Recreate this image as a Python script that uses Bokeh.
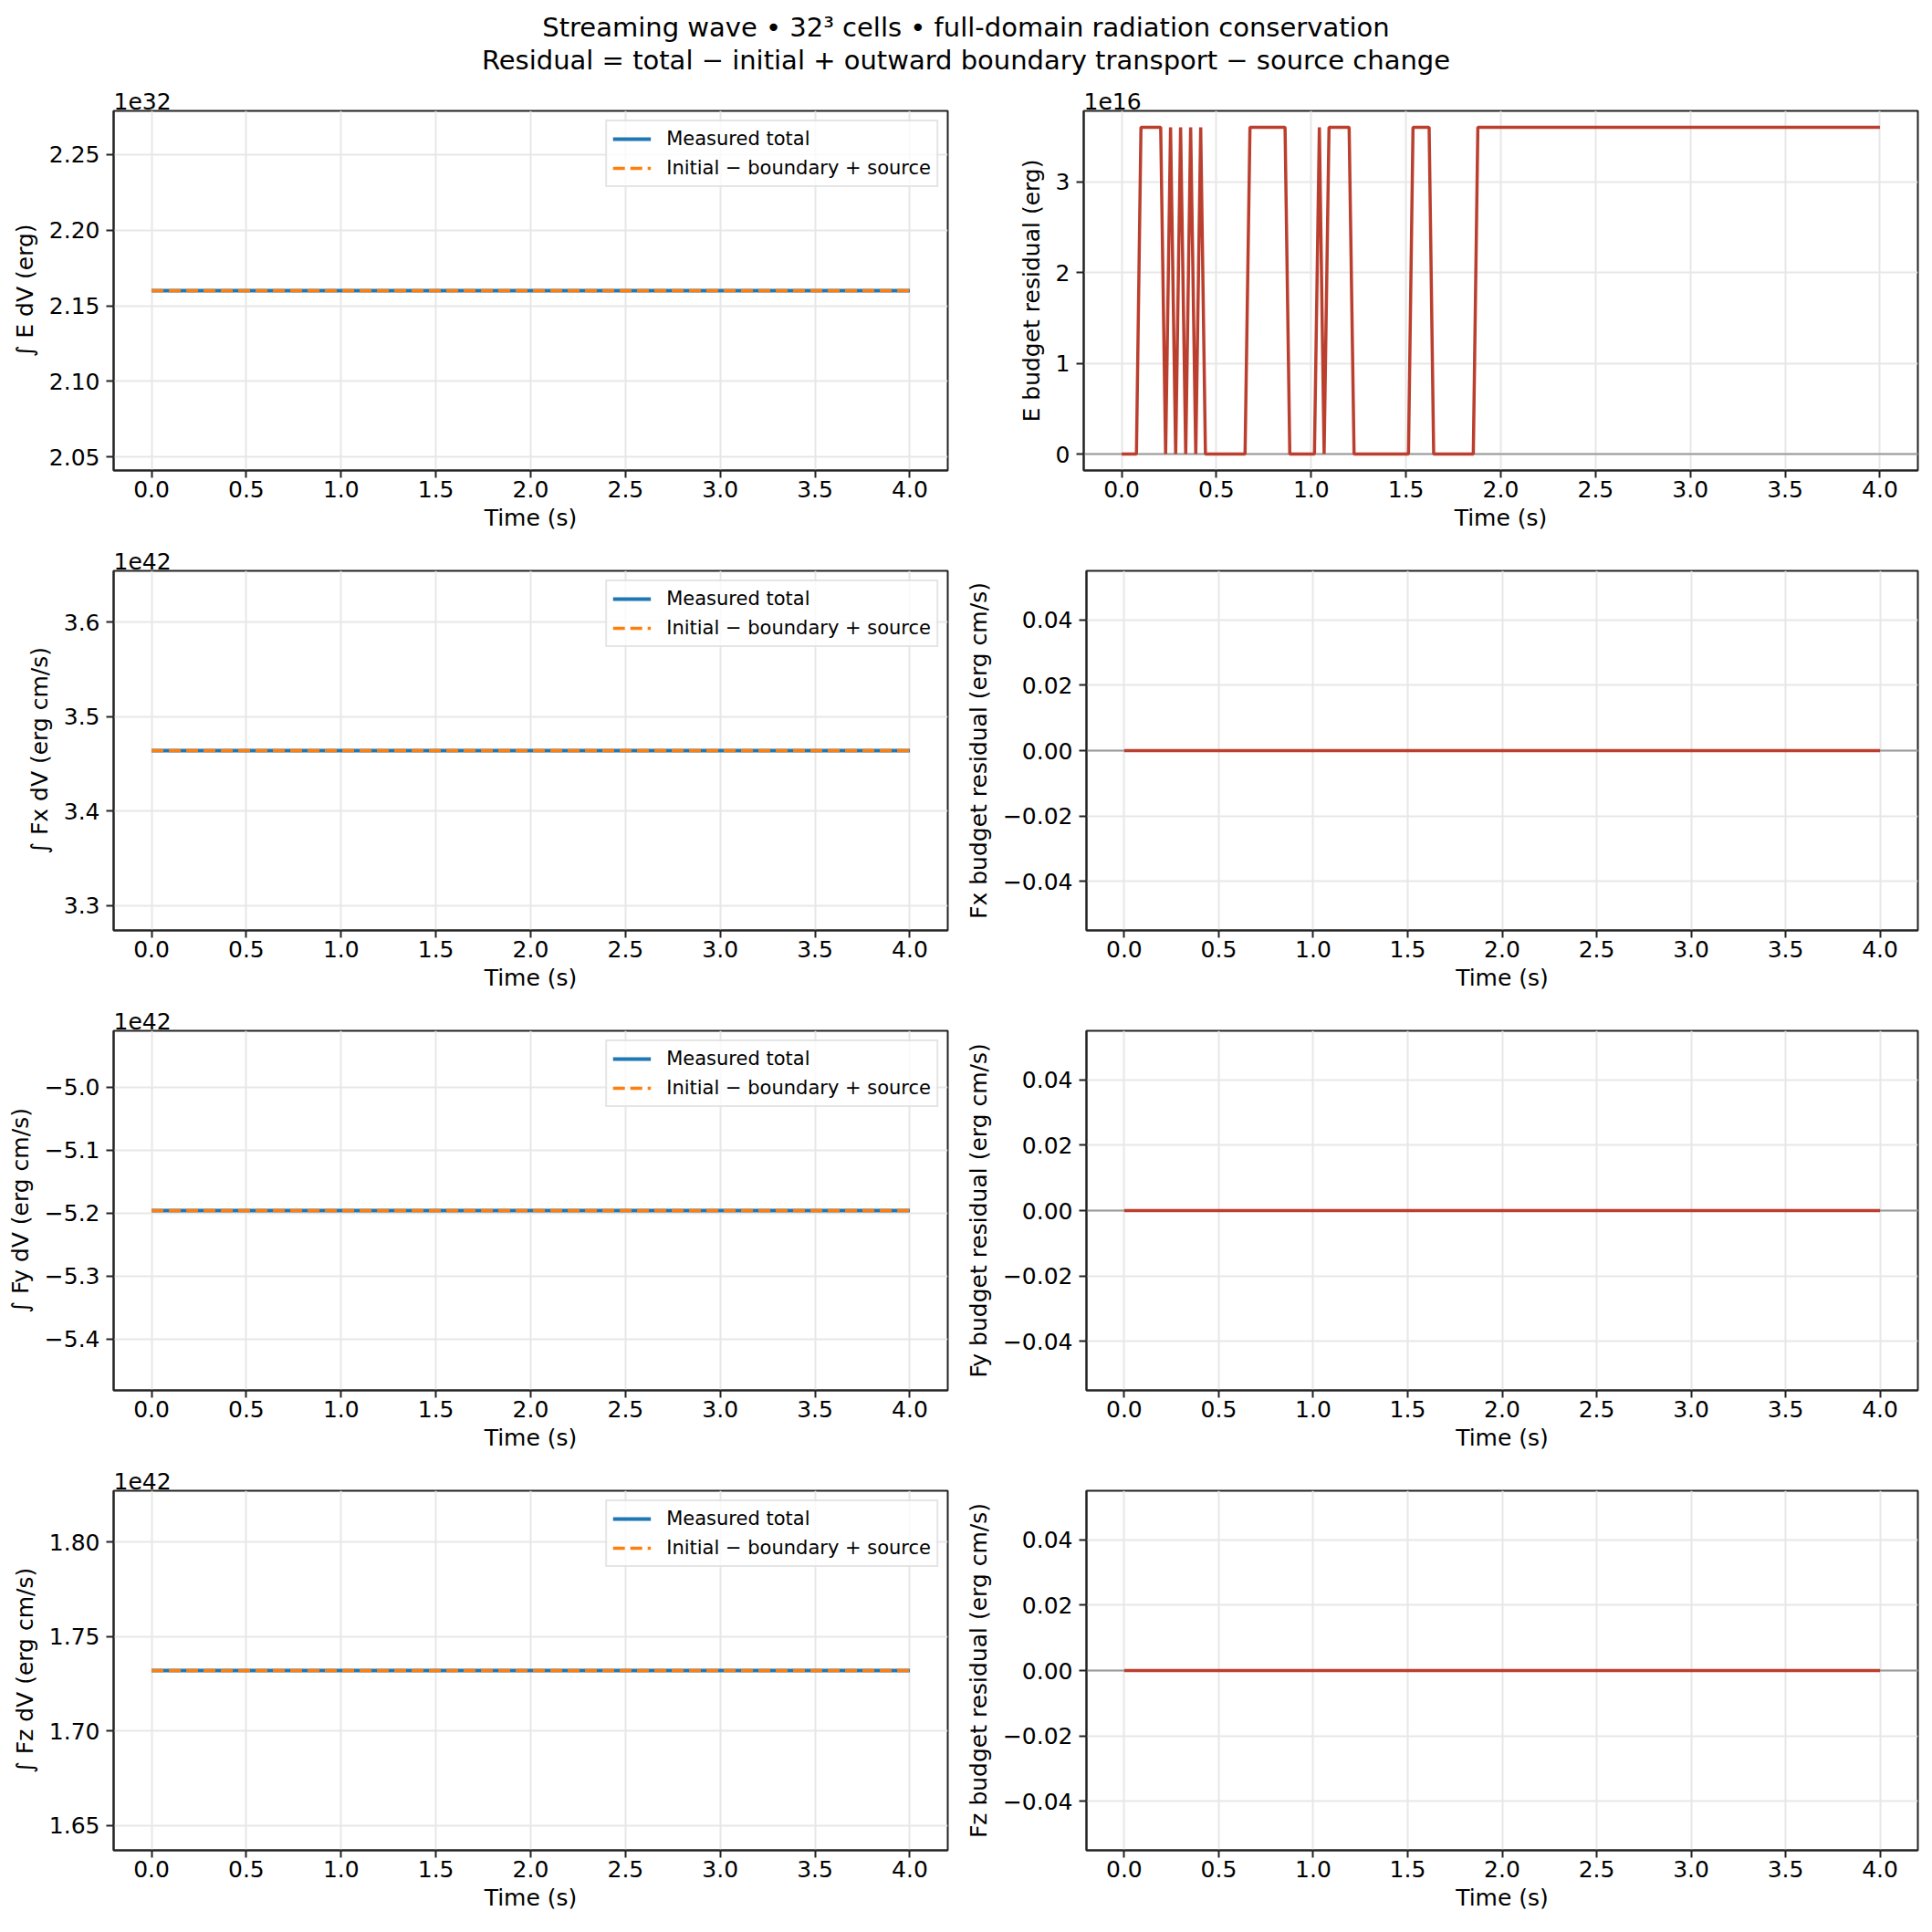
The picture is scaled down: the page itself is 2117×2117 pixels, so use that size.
from bokeh.plotting import figure
from bokeh.layouts import column, row
from bokeh.models import (Range1d, SingleIntervalTicker, CustomJSTickFormatter,
                          Label, Span)
from bokeh.embed import file_html
from bokeh.resources import INLINE

FONT = "DejaVu Sans"

# run start / end (totals are flat over the whole run)
time = [0.0, 4.0]

e_total = [2.16e32, 2.16e32]
e_pred = [2.16e32, 2.16e32]
fx_total = [3.464e42, 3.464e42]
fx_pred = [3.464e42, 3.464e42]
fy_total = [-5.196e42, -5.196e42]
fy_pred = [-5.196e42, -5.196e42]
fz_total = [1.732e42, 1.732e42]
fz_pred = [1.732e42, 1.732e42]

# E residual, corners of the trace
resid_time = [0.0, 0.078, 0.102, 0.206, 0.232, 0.258, 0.285, 0.311, 0.338,
              0.364, 0.391, 0.417, 0.442, 0.651, 0.677, 0.862, 0.887, 1.017,
              1.043, 1.068, 1.094, 1.200, 1.226, 1.513, 1.537, 1.622, 1.646,
              1.855, 1.879, 4.0]
e_resid = [0, 0, 3.6e16, 3.6e16, 0, 3.6e16, 0, 3.6e16, 0,
           3.6e16, 0, 3.6e16, 0, 0, 3.6e16, 3.6e16, 0, 0,
           3.6e16, 0, 3.6e16, 3.6e16, 0, 0, 3.6e16, 3.6e16, 0,
           0, 3.6e16, 3.6e16]
fx_resid = [0.0, 0.0]
fy_resid = [0.0, 0.0]
fz_resid = [0.0, 0.0]

title_lines = ["Streaming wave \u2022 32\u00b3 cells \u2022 full-domain radiation conservation",
               "Residual = total \u2212 initial + outward boundary transport \u2212 source change"]

ROW_H = 504
HEAD_H = 87
LEFT_W, RIGHT_W = 1054, 1057


def y_limits(vals):
    lo, hi = min(vals), max(vals)
    if hi - lo == 0:
        if hi == 0:
            lo, hi = -0.05, 0.05
        else:
            lo, hi = lo - 0.05 * abs(lo), hi + 0.05 * abs(hi)
    pad = 0.05 * (hi - lo)
    return lo - pad, hi + pad


def fmt(d):
    return CustomJSTickFormatter(args=dict(d=d), code="""
        var s = Math.abs(tick) < 1e-9 ? (0).toFixed(d) : tick.toFixed(d);
        return s.replace('-', '\u2212');
    """)


def style(p, ylabel, step, dec, expo):
    p.xaxis.ticker = SingleIntervalTicker(interval=0.5, num_minor_ticks=0)
    p.yaxis.ticker = SingleIntervalTicker(interval=step, num_minor_ticks=0)
    p.xaxis.formatter = fmt(1)
    p.yaxis.formatter = fmt(dec)
    p.xaxis.axis_label = "Time (s)"
    p.yaxis.axis_label = ylabel
    for ax in (p.xaxis, p.yaxis):
        ax.major_label_text_font = FONT
        ax.major_label_text_font_size = "25px"
        ax.major_label_text_color = "black"
        ax.axis_label_text_font = FONT
        ax.axis_label_text_font_size = "25px"
        ax.axis_label_text_font_style = "normal"
        ax.axis_label_text_color = "black"
        ax.major_tick_out = 8
        ax.major_tick_in = 0
        ax.minor_tick_line_color = None
        ax.major_tick_line_width = 2
        ax.major_tick_line_color = "#222222"
        ax.axis_line_color = "#222222"
        ax.axis_line_width = 2
    p.xaxis.major_label_standoff = 3
    p.xaxis.axis_label_standoff = 5
    p.yaxis.major_label_standoff = 7
    p.yaxis.axis_label_standoff = 9
    p.grid.grid_line_color = "#e7e7e7"
    p.grid.grid_line_width = 2
    p.outline_line_color = "#222222"
    p.outline_line_width = 2
    # matplotlib-style offset text ("1e32") above the top-left corner
    p.title.text = expo or ""
    p.title.align = "left"
    p.title.standoff = 4
    p.title.offset = 0
    p.title.text_font = FONT
    p.title.text_font_size = "25px"
    p.title.text_font_style = "normal"
    p.title.text_color = "black"


def base_fig(yvals, width, left, right):
    lo, hi = y_limits(yvals)
    x0, x1 = y_limits(time)
    return figure(width=width, height=ROW_H, x_range=Range1d(x0, x1),
                  y_range=Range1d(lo, hi), output_backend="svg",
                  toolbar_location=None, min_border_left=left,
                  min_border_right=right, min_border_top=34,
                  min_border_bottom=76, title="")


def total_panel(total, pred, scale, ylabel, step, dec, expo):
    tot = [v / scale for v in total]
    prd = [v / scale for v in pred]
    p = base_fig(tot + prd, LEFT_W, 124, 16)
    p.line(time, tot, line_color="#1f77b4", line_width=3.8,
           legend_label="Measured total")
    p.line(time, prd, line_color="#ff7f0e", line_width=3.6,
           line_dash="13 6", legend_label="Initial \u2212 boundary + source")
    style(p, ylabel, step, dec, expo)
    lg = p.legend[0]
    lg.location = "top_right"
    lg.margin = 10
    lg.padding = 6
    lg.spacing = 6
    lg.glyph_width = 42
    lg.glyph_height = 26
    lg.label_height = 26
    lg.label_standoff = 17
    lg.label_text_font = FONT
    lg.label_text_font_size = "21px"
    lg.label_text_color = "black"
    lg.border_line_color = "#cccccc"
    lg.border_line_width = 2
    lg.background_fill_alpha = 0.8
    return p


def resid_panel(t, resid, scale, ylabel, step, dec, expo=None):
    vals = [v / scale for v in resid]
    p = base_fig(vals, RIGHT_W, 133, 10)
    p.add_layout(Span(location=0, dimension="width", line_color="#999999",
                      line_width=2, level="underlay"))
    p.line(t, vals, line_color="#bb3f2e", line_width=3.5)
    style(p, ylabel, step, dec, expo)
    return p


head = figure(width=LEFT_W + RIGHT_W, height=HEAD_H,
              x_range=Range1d(0, LEFT_W + RIGHT_W), y_range=Range1d(0, HEAD_H),
              output_backend="svg", toolbar_location=None, min_border=0,
              outline_line_color=None, x_axis_location=None,
              y_axis_location=None)
head.grid.visible = False
for txt, yy in zip(title_lines, [HEAD_H - 29.5, HEAD_H - 65]):
    head.add_layout(Label(x=1058, y=yy, text=txt, text_align="center",
                          text_baseline="alphabetic", text_font=FONT,
                          text_font_size="29px", text_color="black"))

rows = [
    row(total_panel(e_total, e_pred, 1e32, "\u222b E dV (erg)", 0.05, 2, "1e32"),
        resid_panel(resid_time, e_resid, 1e16, "E budget residual (erg)", 1, 0, "1e16")),
    row(total_panel(fx_total, fx_pred, 1e42, "\u222b Fx dV (erg cm/s)", 0.1, 1, "1e42"),
        resid_panel(time, fx_resid, 1, "Fx budget residual (erg cm/s)", 0.02, 2)),
    row(total_panel(fy_total, fy_pred, 1e42, "\u222b Fy dV (erg cm/s)", 0.1, 1, "1e42"),
        resid_panel(time, fy_resid, 1, "Fy budget residual (erg cm/s)", 0.02, 2)),
    row(total_panel(fz_total, fz_pred, 1e42, "\u222b Fz dV (erg cm/s)", 0.05, 2, "1e42"),
        resid_panel(time, fz_resid, 1, "Fz budget residual (erg cm/s)", 0.02, 2)),
]

page = column(head, *rows)
open("out.html", "w").write(file_html(page, INLINE))
